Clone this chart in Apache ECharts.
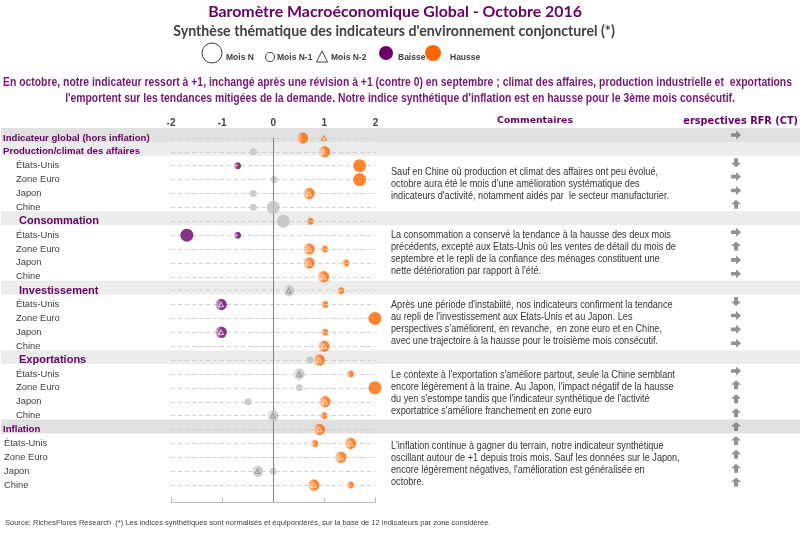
<!DOCTYPE html>
<html><head><meta charset="utf-8">
<script src="https://cdn.jsdelivr.net/npm/echarts@6/dist/echarts.min.js"></script>
<style>html,body{margin:0;padding:0;background:#fff}#c{width:804px;height:534px}</style>
</head><body><div id="c"></div>
<script>
// ---------------- DATA ----------------
const rows = ['Indicateur global (hors inflation)','Production/climat des affaires','États-Unis','Zone Euro','Japon','Chine',
  'Consommation','États-Unis','Zone Euro','Japon','Chine',
  'Investissement','États-Unis','Zone Euro','Japon','Chine',
  'Exportations','États-Unis','Zone Euro','Japon','Chine',
  'Inflation','États-Unis','Zone Euro','Japon','Chine'];
const rowKind = ['g','g','s','s','s','s','h','s','s','s','s','h','s','s','s','s','h','s','s','s','s','g','i','i','i','i'];
const moisN   = [0.57,1.00,1.69,1.69,0.70,0.00,0.20,-1.69,0.70,0.70,0.98,0.30,-1.02,1.99,-1.02,0.99,0.90,0.50,1.99,1.01,-0.01,0.90,1.51,1.32,-0.31,0.79];
const trendN  = ['h','h','h','h','h','n','n','b','h','h','h','n','b','h','b','h','h','n','h','h','n','h','h','h','n','h'];
const moisN1  = [null,-0.39,-0.70,0.02,-0.39,-0.39,0.72,-0.70,1.00,1.42,null,1.32,1.01,null,1.01,null,0.72,1.51,0.51,-0.49,0.99,null,0.81,null,0.00,1.51];
const trendN1 = [null,'n','b','n','n','n','h','b','h','h',null,'h','h',null,'h',null,'n','h','n','n','h',null,'h',null,'n','h'];
const moisN2  = [0.99,0.98,null,null,0.70,null,null,null,0.70,0.70,0.98,0.30,-1.02,null,-1.02,0.99,0.90,0.50,null,1.01,-0.01,0.90,1.51,1.32,-0.31,0.79];
const perspectives = ['r',null,'d','r','r','u',null,'r','u','r','r',null,'d','r','r','r',null,'r','u','u','u','u','u','u','u','u'];
const xTicks = [-2,-1,0,1,2];
const comments = [
 "Sauf en Chine où production et climat des affaires ont peu évolué,\noctobre aura été le mois d'une amélioration systématique des\nindicateurs d'activité, notamment aidés par  le secteur manufacturier.",
 "La consommation a conservé la tendance à la hausse des deux mois\nprécédents, excepté aux Etats-Unis où les ventes de détail du mois de\nseptembre et le repli de la confiance des ménages constituent une\nnette détérioration par rapport à l'été.",
 "Après une période d'instabiité, nos indicateurs confirment la tendance\nau repli de l'investissement aux Etats-Unis et au Japon. Les\nperspectives s'améliorent, en revanche,  en zone euro et en Chine,\navec une trajectoire à la hausse pour le troisième mois consécutif.",
 "Le contexte à l'exportation s'améliore partout, seule la Chine semblant\nencore légèrement à la traine. Au Japon, l'impact négatif de la hausse\ndu yen s'estompe tandis que l'indicateur synthétique de l'activité\nexportatrice s'améliore franchement en zone euro",
 "L'inflation continue à gagner du terrain, notre indicateur synthétique\noscillant autour de +1 depuis trois mois. Sauf les données sur le Japon,\nencore légèrement négatives, l'amélioration est généralisée en\noctobre."
];
const titleText = 'Baromètre Macroéconomique Global - Octobre 2016';
const subtitleText = "Synthèse thématique des indicateurs d'environnement conjoncturel (*)";
const introLines = ["En octobre, notre indicateur ressort à +1, inchangé après une révision à +1 (contre 0) en septembre ; climat des affaires, production industrielle et  exportations",
  "l'emportent sur les tendances mitigées de la demande. Notre indice synthétique d'inflation est en hausse pour le 3ème mois consécutif."];
const footerText = "Source: RichesFlores Research  (*) Les indices synthétiques sont normalisés et équipondérés, sur la base de 12 indicateurs par zone considérée.";

// ---------------- STYLE / LAYOUT ----------------
const COL = {h:'#FF6600', b:'#660066', n:'#BFBFBF'};
const LIGHT = {h:'#ffd3b5', b:'#d7b3d7', n:'#ededed'};
const PURPLE = '#660066';
const cx = document.createElement('canvas').getContext('2d');
function fit(text, weight, fam, target){cx.font=weight+' 100px '+fam;return 100*target/cx.measureText(text).width;}
function widthAt(text, weight, size, fam){cx.font=weight+' '+size+'px '+fam;return cx.measureText(text).width;}
const titleFam = "'Lato', 'Liberation Sans', sans-serif";
const bodyFam = "'Liberation Sans', Arial, sans-serif";

function grad(c){return new echarts.graphic.LinearGradient(0,0,1,0,[{offset:0,color:LIGHT[c]},{offset:0.55,color:COL[c]},{offset:1,color:COL[c]}]);}
const arrowPath = {
  r:'path://M0,3L5,3L5,0L10,5L5,10L5,7L0,7Z',
  u:'path://M3,10L3,5L0,5L5,0L10,5L7,5L7,10Z',
  d:'path://M3,0L7,0L7,5L10,5L5,10L0,5L3,5Z'
};
const bandColor = {g:'#e0e0e0', h:'#ececec'};

const YMAX = 26.22;
const chart = echarts.init(document.getElementById('c'), null, {renderer:'canvas'});

const sN1 = [], sN = [], sN2 = [];
rows.forEach((r,i)=>{
  if (moisN1[i]!=null) sN1.push({value:[moisN1[i], i], itemStyle:{color: trendN1[i]==='n'?COL.n:grad(trendN1[i])}});
  const g = moisN2[i]!=null;
  sN.push({value:[moisN[i], i], symbolSize: g?11.5:13, itemStyle:{color: g?grad(trendN[i]):COL[trendN[i]]}});
  if (moisN2[i]!=null){
    const inside = Math.abs(moisN2[i]-moisN[i])<0.1;
    sN2.push({value:[moisN2[i], i], itemStyle:{color:'rgba(0,0,0,0)', borderWidth:1,
      borderColor: inside ? (trendN[i]==='n' ? '#8a8a8a' : 'rgba(255,255,255,0.8)') : COL[trendN[i]]}});
  }
});

const titleSize = fit(titleText,'bold',titleFam,374);
const subSize = fit(subtitleText,'bold',titleFam,442);
const introFont = 12.5;
const introScale = 789/widthAt(introLines[0],'bold',introFont,bodyFam);
const footSize = fit(footerText,'normal',bodyFam,487);
const comFont = 10.5;
const comScale = 267/widthAt(comments[0].split('\n')[0],'normal',comFont,bodyFam);
const comHead = "'DejaVu Sans', sans-serif";

const commentTops = [172,235,305,375,446];
const mid = {textVerticalAlign:'middle', verticalAlign:'middle'};
const graphic = [
  {type:'text', x:395, y:12, style:Object.assign({text:titleText, fontSize:titleSize, fontWeight:'bold', fontFamily:titleFam, fill:PURPLE, textAlign:'center', align:'center'},mid)},
  {type:'text', x:394, y:31, style:Object.assign({text:subtitleText, fontSize:subSize, fontWeight:'bold', fontFamily:titleFam, fill:'#404040', textAlign:'center', align:'center'},mid)},
  {type:'text', x:397.5, y:83, scaleX:introScale, style:Object.assign({text:introLines[0], fontSize:introFont, fontWeight:'bold', fontFamily:bodyFam, fill:'#741874', textAlign:'center', align:'center'},mid)},
  {type:'text', x:400, y:99, scaleX:introScale, style:Object.assign({text:introLines[1], fontSize:introFont, fontWeight:'bold', fontFamily:bodyFam, fill:'#741874', textAlign:'center', align:'center'},mid)},
  // legend
  {type:'circle', shape:{cx:212, cy:53, r:10}, style:{fill:'#fff', stroke:'#404040', lineWidth:1}},
  {type:'circle', shape:{cx:270, cy:57, r:4.6}, style:{fill:'#fff', stroke:'#404040', lineWidth:1}},
  {type:'polygon', shape:{points:[[322,51],[327.5,62],[316.5,62]]}, style:{fill:'#fff', stroke:'#404040', lineWidth:1}},
  {type:'circle', shape:{cx:386, cy:53, r:7}, style:{fill:COL.b}},
  {type:'circle', shape:{cx:433, cy:53, r:8}, style:{fill:COL.h}},
  ...[['Mois N',226],['Mois N-1',277],['Mois N-2',331],['Baisse',398],['Hausse',450]].map(([t,x])=>(
    {type:'text', x:x, y:58, style:Object.assign({text:t, fontSize:8.5, fontWeight:'bold', fontFamily:bodyFam, fill:'#404040'},mid)})),
  {type:'text', x:535, y:121, style:Object.assign({text:'Commentaires', fontSize:fit('Commentaires','bold',comHead,76), fontWeight:'bold', fontFamily:comHead, fill:PURPLE, textAlign:'center', align:'center'},mid)},
  {type:'text', x:798, y:121, style:Object.assign({text:'erspectives RFR (CT)', fontSize:fit('erspectives RFR (CT)','bold',comHead,115), fontWeight:'bold', fontFamily:comHead, fill:PURPLE, textAlign:'right', align:'right'},mid)},
  ...comments.map((t,k)=>({type:'text', x:391, y:commentTops[k]-6.1, scaleX:comScale, style:{text:t, fontSize:comFont, fontFamily:bodyFam, fill:'#333333', lineHeight:12.2, textVerticalAlign:'top', verticalAlign:'top'}})),
  {type:'text', x:5, y:523, style:Object.assign({text:footerText, fontSize:footSize, fontFamily:bodyFam, fill:'#404040'},mid)}
];

const option = {
  animation:false,
  backgroundColor:'#fff',
  grid:[
    {left:171, right:804-375.5, top:131, bottom:32},
    {left:0, right:4, top:128, height:26*13.885}
  ],
  xAxis:[
    {gridIndex:0, type:'value', position:'bottom', min:xTicks[0], max:xTicks[xTicks.length-1], interval:1,
     axisLine:{show:true, onZero:false, lineStyle:{color:'#bfbfbf'}}, axisTick:{show:true, inside:true, length:5, lineStyle:{color:'#bfbfbf'}},
     axisLabel:{show:false}, splitLine:{show:false}},
    {gridIndex:0, type:'value', position:'top', min:xTicks[0], max:xTicks[xTicks.length-1], interval:1,
     axisLine:{show:false, onZero:false}, axisTick:{show:false}, splitLine:{show:false},
     axisLabel:{show:true, margin:3, fontSize:10, fontWeight:'bold', fontFamily:bodyFam, color:'#404040'}},
    {gridIndex:1, type:'value', min:0, max:1, show:false}
  ],
  yAxis:[
    {gridIndex:0, type:'value', inverse:true, min:-0.5, max:YMAX, show:false},
    {gridIndex:1, type:'category', inverse:true, data:rows, z:10,
     axisLine:{show:false}, axisTick:{show:false}, splitLine:{show:false},
     axisLabel:{show:true, inside:true, interval:0, margin:2,
       formatter:(v,i)=>'{'+rowKind[i]+'|'+v+'}',
       rich:{
         g:{color:PURPLE, fontSize:9.6, fontWeight:'bold', fontFamily:bodyFam, padding:[6,0,0,0]},
         h:{color:PURPLE, fontSize:11, fontWeight:'bold', fontFamily:bodyFam, padding:[6,0,0,16]},
         s:{color:'#404040', fontSize:9.4, fontFamily:bodyFam, padding:[6,0,0,13]},
         i:{color:'#404040', fontSize:9.4, fontFamily:bodyFam, padding:[6,0,0,1]}
       }}}
  ],
  series:[
    {type:'bar', xAxisIndex:2, yAxisIndex:1, z:1, silent:true, barWidth:'100%', barCategoryGap:'0%',
     data: rows.map((r,i)=> (rowKind[i]==='g'||rowKind[i]==='h') ? {value:1, itemStyle:{color: (i===0||rowKind[i]==='g'&&i>1)?bandColor.g:bandColor.h}} : {value:0, itemStyle:{color:'rgba(0,0,0,0)'}})},
    {type:'scatter', xAxisIndex:2, yAxisIndex:1, z:3, silent:true, symbolSize:[10,9], symbolOffset:[0,0],
     itemStyle:{color:'#767676'},
     data: perspectives.map((p,i)=> p ? {value:[0.92, i], symbol: arrowPath[p]} : null).filter(Boolean)},
    {type:'scatter', xAxisIndex:0, yAxisIndex:0, z:2, silent:true, data:[],
     markLine:{silent:true, symbol:'none', label:{show:false},
       data:[
         ...rows.map((r,i)=>[{coord:[xTicks[0],i], lineStyle:{color:'#cfcfcf', type:[4,3], width:1}},{coord:[xTicks[xTicks.length-1],i]}]),
         [{coord:[0,0], lineStyle:{color:'#808080', type:'solid', width:1}},{coord:[0,YMAX]}]
       ]}},
    {type:'scatter', name:'Mois N-1', xAxisIndex:0, yAxisIndex:0, z:4, silent:true, symbol:'circle', symbolSize:7, data:sN1},
    {type:'scatter', name:'Mois N', xAxisIndex:0, yAxisIndex:0, z:5, silent:true, symbol:'circle', data:sN},
    {type:'scatter', name:'Mois N-2', xAxisIndex:0, yAxisIndex:0, z:6, silent:true, symbol:'triangle', symbolSize:[5,4.5], data:sN2}
  ],
  graphic: graphic
};
chart.setOption(option);
</script></body></html>
